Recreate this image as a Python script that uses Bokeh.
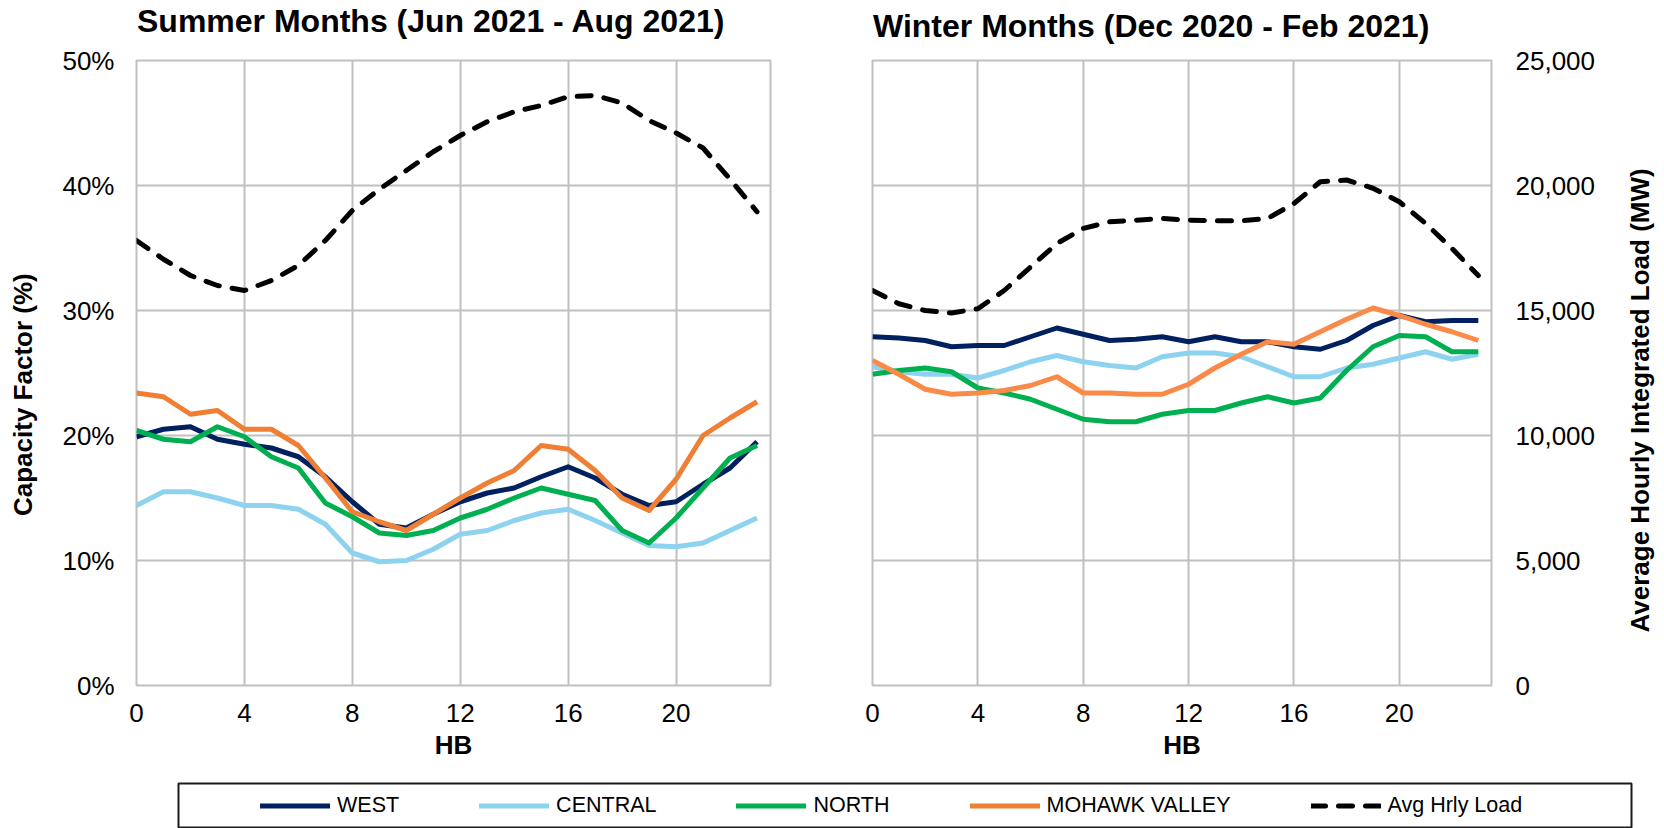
from bokeh.plotting import figure
from bokeh.models import (Range1d, FixedTicker, PrintfTickFormatter, NumeralTickFormatter,
                          Legend, LegendItem, Title, Div)
from bokeh.layouts import column, row
from bokeh.embed import file_html
from bokeh.resources import INLINE

# ---------------- data ----------------
HOURS = list(range(24))
X_TICKS = [0, 4, 8, 12, 16, 20]
CF_TICKS = [0, 10, 20, 30, 40, 50]
LOAD_TICKS = [0, 5000, 10000, 15000, 20000, 25000]

SERIES = ["WEST", "CENTRAL", "NORTH", "MOHAWK VALLEY"]
LOAD_NAME = "Avg Hrly Load"

SUMMER_TITLE = "Summer Months (Jun 2021 - Aug 2021)"
WINTER_TITLE = "Winter Months (Dec 2020 - Feb 2021)"
CF_LABEL = "Capacity Factor (%)"
LOAD_LABEL = "Average Hourly Integrated Load (MW)"
X_LABEL = "HB"

# capacity factor, %
SUMMER_WEST = [19.9, 20.5, 20.7, 19.7, 19.3, 19.0, 18.3, 16.7, 14.7, 12.9, 12.6, 13.7,
               14.7, 15.4, 15.8, 16.7, 17.5, 16.6, 15.3, 14.4, 14.7, 16.1, 17.4, 19.5]
SUMMER_CENTRAL = [14.4, 15.5, 15.5, 15.0, 14.4, 14.4, 14.1, 12.9, 10.6, 9.9, 10.0, 10.9,
                  12.1, 12.4, 13.2, 13.8, 14.1, 13.2, 12.2, 11.2, 11.1, 11.4, 12.4, 13.4]
SUMMER_NORTH = [20.4, 19.7, 19.5, 20.7, 19.9, 18.3, 17.4, 14.6, 13.5, 12.2, 12.0, 12.4,
                13.4, 14.1, 15.0, 15.8, 15.3, 14.8, 12.4, 11.4, 13.4, 15.8, 18.2, 19.2]
SUMMER_MOHAWK = [23.4, 23.1, 21.7, 22.0, 20.5, 20.5, 19.2, 16.6, 13.9, 13.1, 12.4, 13.7,
                 15.0, 16.2, 17.2, 19.2, 18.9, 17.2, 15.0, 14.0, 16.5, 20.0, 21.4, 22.7]
# average hourly integrated load, MW
SUMMER_LOAD = [17800, 17050, 16400, 16000, 15800, 16200, 16800, 17800, 19000, 19850, 20600, 21350,
               22000, 22550, 22950, 23200, 23550, 23600, 23300, 22600, 22100, 21500, 20250, 18950]

WINTER_WEST = [27.9, 27.8, 27.6, 27.1, 27.2, 27.2, 27.9, 28.6, 28.1, 27.6, 27.7, 27.9,
               27.5, 27.9, 27.5, 27.5, 27.1, 26.9, 27.6, 28.8, 29.6, 29.1, 29.2, 29.2]
WINTER_CENTRAL = [25.5, 25.1, 24.9, 24.9, 24.6, 25.2, 25.9, 26.4, 25.9, 25.6, 25.4, 26.3,
                  26.6, 26.6, 26.3, 25.5, 24.7, 24.7, 25.4, 25.7, 26.2, 26.7, 26.1, 26.5]
WINTER_NORTH = [24.9, 25.2, 25.4, 25.1, 23.8, 23.4, 22.9, 22.1, 21.3, 21.1, 21.1, 21.7,
                22.0, 22.0, 22.6, 23.1, 22.6, 23.0, 25.2, 27.1, 28.0, 27.9, 26.7, 26.7]
WINTER_MOHAWK = [26.0, 24.9, 23.7, 23.3, 23.4, 23.6, 24.0, 24.7, 23.4, 23.4, 23.3, 23.3,
                 24.1, 25.4, 26.5, 27.5, 27.3, 28.3, 29.3, 30.2, 29.6, 28.9, 28.3, 27.6]
WINTER_LOAD = [15800, 15270, 15000, 14900, 15070, 15800, 16740, 17680, 18280, 18550, 18610, 18680,
               18610, 18590, 18590, 18680, 19280, 20150, 20220, 19890, 19350, 18480, 17480, 16400]

# ---------------- style ----------------
C_WEST = "#002060"
C_CENTRAL = "#8DD3F0"
C_NORTH = "#00B050"
C_MOHAWK_S = "#EE7F34"
C_MOHAWK_W = "#F98A48"
GRID = "#C0C0C0"
FONT = "Liberation Sans"
LW = 5
DASH = "14 13"
PAD = "\u00a0" * 6   # nudges the rotated left axis title toward the start of the text
FIG_H = 738
TOP = 16
BOTTOM = 97


def title_div(text, width, top, left):
    html = ('<div style="font: bold 32px/32px \'Liberation Sans\'; color: black; '
            'white-space: nowrap;">%s</div>' % text)
    return Div(text=html, width=width, height=44 - top, margin=(top, 0, 0, left))


def style_common(p):
    p.title.text = ""
    p.outline_line_color = GRID
    p.outline_line_width = 2
    p.xgrid.ticker = FixedTicker(ticks=X_TICKS)
    p.xgrid.grid_line_color = GRID
    p.xgrid.grid_line_width = 2
    p.ygrid.grid_line_color = GRID
    p.ygrid.grid_line_width = 2
    for ax in p.axis:
        ax.axis_line_color = None
        ax.major_tick_line_color = None
        ax.minor_tick_line_color = None
        ax.major_tick_out = 0
        ax.major_tick_in = 0
        ax.minor_tick_out = 0
        ax.minor_tick_in = 0
        ax.major_label_text_font = FONT
        ax.major_label_text_font_size = "26px"
        ax.major_label_text_color = "black"
        ax.axis_label_text_font = FONT
        ax.axis_label_text_font_style = "bold"
        ax.axis_label_text_font_size = "26px"
        ax.axis_label_text_color = "black"
    p.xaxis.ticker = FixedTicker(ticks=X_TICKS)
    p.xaxis.axis_label = X_LABEL
    p.xaxis.major_label_standoff = 18
    p.xaxis.axis_label_standoff = 5


# ---- summer (left) ----
p1 = figure(width=821, height=FIG_H, x_range=Range1d(0, 23.5), y_range=Range1d(0, 50),
            output_backend="svg", toolbar_location=None,
            min_border_left=136, min_border_right=51, min_border_top=TOP, min_border_bottom=BOTTOM)
p1.extra_y_ranges = {"load": Range1d(0, 25000)}
style_common(p1)
p1.yaxis.ticker = FixedTicker(ticks=CF_TICKS)
p1.yaxis.formatter = PrintfTickFormatter(format="%d%%")
p1.yaxis.axis_label = CF_LABEL + PAD
p1.yaxis.major_label_standoff = 22
p1.yaxis.axis_label_standoff = 21

for vals, col in [(SUMMER_WEST, C_WEST), (SUMMER_CENTRAL, C_CENTRAL),
                  (SUMMER_NORTH, C_NORTH), (SUMMER_MOHAWK, C_MOHAWK_S)]:
    p1.line(HOURS, vals, line_color=col, line_width=LW, line_join="round")
p1.line(HOURS, SUMMER_LOAD, y_range_name="load", line_color="black", line_width=5,
        line_dash=DASH, line_cap="round", line_join="round")

# ---- winter (right) ----
p2 = figure(width=789, height=FIG_H, x_range=Range1d(0, 23.5), y_range=Range1d(0, 25000),
            y_axis_location="right", output_backend="svg", toolbar_location=None,
            min_border_left=51, min_border_right=119, min_border_top=TOP, min_border_bottom=BOTTOM)
p2.extra_y_ranges = {"cf": Range1d(0, 50)}
style_common(p2)
p2.yaxis.ticker = FixedTicker(ticks=LOAD_TICKS)
p2.yaxis.formatter = NumeralTickFormatter(format="0,0")
p2.yaxis.major_label_standoff = 24

for vals, col in [(WINTER_WEST, C_WEST), (WINTER_CENTRAL, C_CENTRAL),
                  (WINTER_NORTH, C_NORTH), (WINTER_MOHAWK, C_MOHAWK_W)]:
    p2.line(HOURS, vals, y_range_name="cf", line_color=col, line_width=LW, line_join="round")
p2.line(HOURS, WINTER_LOAD, line_color="black", line_width=5,
        line_dash=DASH, line_cap="round", line_join="round")

# ---- thin strip carrying the secondary-axis title (reads bottom to top) ----
p3 = figure(width=54, height=FIG_H, x_range=Range1d(0, 1), y_range=Range1d(0, 1),
            x_axis_location=None, y_axis_location=None, output_backend="svg",
            toolbar_location=None, min_border_left=45, min_border_right=1,
            min_border_top=TOP, min_border_bottom=BOTTOM)
p3.grid.visible = False
p3.outline_line_color = None
p3.title.text = ""
p3.add_layout(Title(text=LOAD_LABEL, align="left", offset=53, vertical_align="middle",
                    standoff=0, text_font=FONT, text_font_size="26px",
                    text_font_style="bold", text_color="black"), "left")

# ---- shared legend strip (series drawn off-range, only their legend glyphs show) ----
pl = figure(width=1664, height=46, x_range=Range1d(0, 1), y_range=Range1d(-2, -1),
            x_axis_location=None, y_axis_location=None,
            output_backend="svg", toolbar_location=None,
            min_border_left=178, min_border_right=33, min_border_top=1, min_border_bottom=1)
pl.grid.visible = False
pl.outline_line_color = "#1A1A1A"
pl.outline_line_width = 2
items = []
for name, vals, col in zip(SERIES, [SUMMER_WEST, SUMMER_CENTRAL, SUMMER_NORTH, SUMMER_MOHAWK],
                           [C_WEST, C_CENTRAL, C_NORTH, C_MOHAWK_S]):
    r = pl.line(HOURS, vals, line_color=col, line_width=5, line_cap="round")
    items.append(LegendItem(label=name, renderers=[r]))
r = pl.line(HOURS, SUMMER_LOAD, line_color="black", line_width=5, line_dash=DASH, line_cap="round")
items.append(LegendItem(label=LOAD_NAME, renderers=[r]))
leg = Legend(items=items, orientation="horizontal", location="center_left", margin=82,
             padding=0, spacing=80, glyph_width=70, glyph_height=20, label_standoff=7,
             border_line_color=None, background_fill_alpha=0,
             label_text_font=FONT, label_text_font_size="21.5px", label_text_color="black")
pl.add_layout(leg)

titles = row(title_div(SUMMER_TITLE, 684, 5, 137), title_div(WINTER_TITLE, 791, 10, 52))
layout = column(titles, row(p1, p2, p3), pl)
open("out.html", "w").write(file_html(layout, INLINE))
